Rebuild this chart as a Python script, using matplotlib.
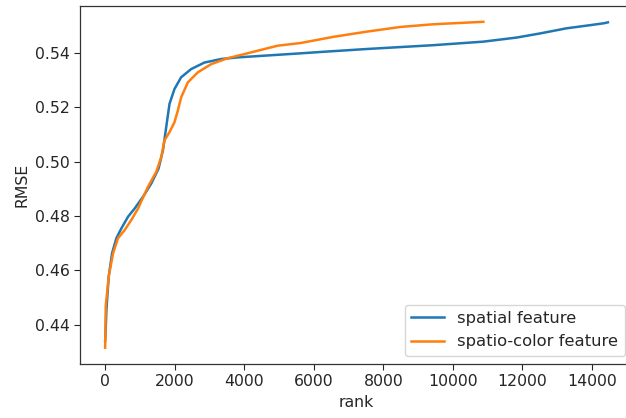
import matplotlib
matplotlib.use("Agg")
import matplotlib.pyplot as plt

# values
spatial_rank = [0, 15, 37, 103, 200, 324, 467, 659, 848, 1088, 1327, 1536, 1662,
                1756, 1851, 1995, 2186, 2473, 2854, 3332, 3811, 5625, 6198, 7536,
                9444, 10877, 11834, 12501, 13267, 14028, 14364, 14458]
spatial_rmse = [0.4340, 0.4380, 0.4455, 0.4577, 0.4663, 0.4718, 0.4754, 0.4797,
                0.4827, 0.4870, 0.4919, 0.4974, 0.5041, 0.5126, 0.5212, 0.5267,
                0.5310, 0.5340, 0.5364, 0.5377, 0.5383, 0.5398, 0.5403, 0.5414,
                0.5428, 0.5441, 0.5456, 0.5471, 0.5490, 0.5503, 0.5509, 0.5512]

color_rank = [0, 17, 103, 229, 372, 562, 754, 946, 1232, 1470, 1613, 1708, 1851,
              1995, 2092, 2186, 2378, 2665, 3046, 3524, 4000, 4957, 5625, 6579,
              7536, 8490, 9444, 10877]
color_rmse = [0.4315, 0.4467, 0.4577, 0.4663, 0.4718, 0.4748, 0.4785, 0.4827,
              0.4907, 0.4962, 0.5016, 0.5078, 0.5108, 0.5145, 0.5188, 0.5236,
              0.5291, 0.5328, 0.5358, 0.5380, 0.5395, 0.5426, 0.5436, 0.5459,
              0.5478, 0.5495, 0.5505, 0.5514]

# reference looks like a default notebook plot scaled up a bit
plt.rcParams["font.size"] = 11.3
plt.rcParams["lines.linewidth"] = 1.8
plt.rcParams["axes.linewidth"] = 0.9
plt.rcParams["xtick.major.size"] = 4
plt.rcParams["ytick.major.size"] = 4
plt.rcParams["text.color"] = "#262626"
plt.rcParams["xtick.color"] = "#262626"
plt.rcParams["ytick.color"] = "#262626"
plt.rcParams["axes.labelcolor"] = "#262626"
plt.rcParams["axes.edgecolor"] = "#333333"

fig = plt.figure(figsize=(6.26, 4.18), dpi=100)
ax = fig.add_axes([80 / 626, 54 / 418, 553 / 626, 358.5 / 418])

ax.plot(spatial_rank, spatial_rmse, label="spatial feature")
ax.plot(color_rank, color_rmse, label="spatio-color feature")

ax.set_xlabel("rank")
ax.set_ylabel("RMSE")
ax.set_xticks([0, 2000, 4000, 6000, 8000, 10000, 12000, 14000])
ax.set_yticks([0.44, 0.46, 0.48, 0.50, 0.52, 0.54])
ax.legend(loc="lower right", fontsize=11.8)

fig.savefig("out.png", dpi=100)
